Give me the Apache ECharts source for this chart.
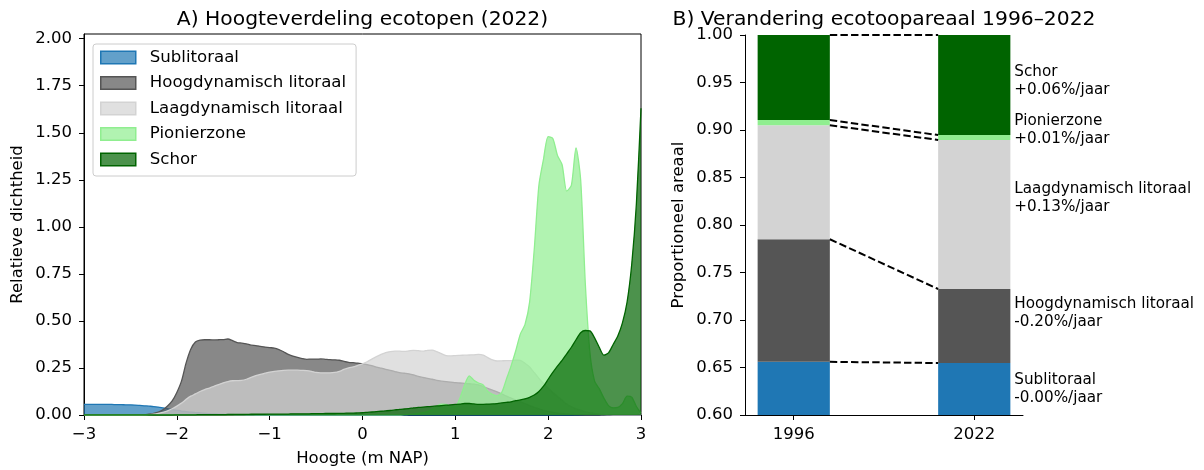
<!DOCTYPE html>
<html>
<head>
<meta charset="utf-8">
<script src="https://cdn.jsdelivr.net/npm/echarts@6/dist/echarts.min.js"></script>
<style>html,body{margin:0;padding:0;background:#fff}#c{width:1204px;height:470px}</style>
</head>
<body>
<div id="c"></div>
<script>
// ---------- Panel A: elevation grid (m NAP), step 0.05 from -3 to 3 ----------
const X = [];
for (let i = 0; i <= 120; i++) X.push(Math.round((-3 + i * 0.05) * 100) / 100);

const Z20 = [0,0,0,0,0,0,0,0,0,0, 0,0,0,0,0,0,0,0,0,0];

const SUBLITORAAL = [].concat(
  [0.056,0.056,0.056,0.056,0.056,0.056,0.056,0.055,0.055,0.054, 0.054,0.053,0.051,0.049,0.047,0.045,0.042,0.038,0.034,0.029],
  [0.025,0.021,0.018,0.015,0.013,0.011,0.009,0.007,0.006,0.005, 0.004,0.003,0.003,0.002,0.002,0.001,0.001,0,0,0],
  Z20, Z20, Z20, Z20, [0]
);
const HOOGDYNAMISCH = [].concat(
  [0,0,0,0,0,0,0,0,0,0, 0,0,0,0.002,0.004,0.008,0.015,0.028,0.048,0.075],
  [0.12,0.18,0.277,0.35,0.388,0.398,0.4,0.4,0.399,0.4, 0.401,0.404,0.395,0.385,0.382,0.378,0.371,0.369,0.365,0.361],
  [0.358,0.356,0.348,0.336,0.322,0.313,0.306,0.3,0.296,0.297, 0.297,0.298,0.296,0.294,0.293,0.291,0.285,0.28,0.278,0.276],
  [0.272,0.268,0.262,0.255,0.249,0.243,0.237,0.231,0.225,0.222, 0.219,0.213,0.205,0.2,0.195,0.19,0.184,0.18,0.177,0.175],
  [0.172,0.17,0.168,0.166,0.164,0.16,0.152,0.141,0.132,0.123, 0.113,0.1,0.09,0.08,0.07,0.06,0.05,0.04,0.032,0.025],
  [0.019,0.014,0.01,0.007,0.005,0.003,0.002,0.001,0,0, 0,0,0,0,0,0,0,0,0,0],
  [0]
);
const LAAGDYNAMISCH = [].concat(
  [0,0,0,0,0,0,0,0,0,0, 0,0,0,0,0.002,0.004,0.008,0.014,0.022,0.033],
  [0.047,0.063,0.083,0.1,0.112,0.125,0.135,0.143,0.152,0.162, 0.171,0.178,0.182,0.183,0.184,0.19,0.2,0.209,0.216,0.222],
  [0.228,0.232,0.235,0.237,0.238,0.238,0.238,0.237,0.236,0.232, 0.226,0.224,0.224,0.224,0.226,0.232,0.242,0.25,0.256,0.264],
  [0.272,0.283,0.297,0.31,0.322,0.332,0.337,0.339,0.339,0.338, 0.341,0.344,0.342,0.339,0.344,0.345,0.337,0.326,0.316,0.314],
  [0.316,0.317,0.318,0.319,0.32,0.322,0.318,0.305,0.293,0.287, 0.288,0.289,0.289,0.291,0.29,0.275,0.255,0.225,0.195,0.168],
  [0.142,0.12,0.098,0.078,0.058,0.043,0.032,0.024,0.017,0.011, 0.007,0.004,0.002,0.001,0,0,0,0,0,0],
  [0]
);
const PIONIERZONE = [].concat(
  Z20, Z20, Z20,
  [0,0,0,0,0,0,0,0,0,0.002, 0.003,0.005,0.008,0.012,0.018,0.03,0.048,0.058,0.056,0.045],
  [0.045,0.09,0.16,0.208,0.185,0.17,0.16,0.125,0.11,0.102, 0.12,0.19,0.26,0.34,0.43,0.48,0.6,0.88,1.22,1.36],
  [1.48,1.47,1.38,1.33,1.19,1.22,1.42,1.25,0.7,0.33, 0.18,0.14,0.09,0.05,0.038,0.04,0.06,0.1,0.095,0.045],
  [0.01]
);
const SCHOR = [].concat(
  Z20,
  [0.001,0.001,0.001,0.001,0.001,0.002,0.002,0.002,0.002,0.002, 0.002,0.003,0.003,0.003,0.003,0.003,0.004,0.004,0.004,0.004],
  [0.005,0.005,0.005,0.005,0.005,0.006,0.006,0.006,0.006,0.007, 0.007,0.007,0.008,0.008,0.008,0.009,0.009,0.01,0.01,0.011],
  [0.012,0.014,0.016,0.018,0.02,0.022,0.024,0.027,0.03,0.032, 0.034,0.038,0.04,0.042,0.044,0.046,0.048,0.05,0.052,0.054],
  [0.056,0.058,0.061,0.061,0.059,0.057,0.057,0.058,0.059,0.061, 0.064,0.067,0.07,0.076,0.08,0.086,0.094,0.106,0.125,0.153],
  [0.19,0.226,0.26,0.29,0.325,0.36,0.4,0.437,0.449,0.447, 0.41,0.36,0.318,0.33,0.375,0.42,0.49,0.6,0.8,1.12],
  [1.63]
);

const ECOTOPES = ['Sublitoraal','Hoogdynamisch litoraal','Laagdynamisch litoraal','Pionierzone','Schor'];
const DENSITIES = [SUBLITORAAL, HOOGDYNAMISCH, LAAGDYNAMISCH, PIONIERZONE, SCHOR];
const COLORS = ['#1f77b4','#555555','#d3d3d3','#90ee90','#006400'];
const FILLS = ['rgba(31,119,180,0.7)','rgba(85,85,85,0.7)','rgba(211,211,211,0.7)','rgba(144,238,144,0.7)','rgba(0,100,0,0.7)'];
const A_TICKS_Y = [0,0.25,0.5,0.75,1,1.25,1.5,1.75,2];

// ---------- Panel B: proportional area per ecotope ----------
const YEARS = ['1996','2022'];
const AREA_1996 = [0.656, 0.129, 0.120, 0.0055, 0.0895];
const AREA_2022 = [0.6547, 0.0779, 0.1569, 0.0052, 0.1053];
const RATES = ['-0.00%/jaar','-0.20%/jaar','+0.13%/jaar','+0.01%/jaar','+0.06%/jaar'];
const B_TICKS_Y = [0.6,0.65,0.7,0.75,0.8,0.85,0.9,0.95,1.0];

const FONT = 'DejaVu Sans';
const FS = 16.5;

function cum(a){ const r=[]; let s=0; a.forEach(v=>{s+=v; r.push(s);}); return r; }
const C96 = cum(AREA_1996), C22 = cum(AREA_2022);
const BAR_HALF = 0.2;

const series = [];
ECOTOPES.forEach((name, k) => {
  series.push({
    type:'line', name, xAxisIndex:0, yAxisIndex:0,
    data: X.map((x,i)=>[x, DENSITIES[k][i]]),
    showSymbol:false, symbol:'none', smooth:0.25,
    lineStyle:{color:COLORS[k], width:1.3},
    itemStyle:{color:COLORS[k]},
    areaStyle:{color:FILLS[k], opacity:1},
    z: 2 + k, silent:true
  });
});
ECOTOPES.forEach((name, k) => {
  series.push({
    type:'custom', name, xAxisIndex:1, yAxisIndex:1, clip:true, silent:true,
    data:[[0, k ? C96[k-1] : 0, C96[k]], [1, k ? C22[k-1] : 0, C22[k]]],
    renderItem:(params, api) => {
      const x = api.value(0);
      const p0 = api.coord([x - BAR_HALF, api.value(2)]);
      const p1 = api.coord([x + BAR_HALF, api.value(1)]);
      return {type:'rect', shape:{x:p0[0], y:p0[1], width:p1[0]-p0[0], height:p1[1]-p0[1]},
              style:{fill:COLORS[k]}};
    }
  });
});
ECOTOPES.forEach((name, k) => {
  series.push({
    type:'line', xAxisIndex:1, yAxisIndex:1,
    data:[[BAR_HALF, C96[k]],[1-BAR_HALF, C22[k]]],
    symbol:'none', lineStyle:{color:'#000', width:2, type:[7.4,3.2]}, z:5, silent:true
  });
});
// label positions: mean of the segment midpoints of both years
const labelData = ECOTOPES.map((name,k) => {
  const b96 = k===0 ? 0.6 : C96[k-1], b22 = k===0 ? 0.6 : C22[k-1];
  let y = ((b96 + C96[k]) / 2 + (b22 + C22[k]) / 2) / 2;
  y = Math.max(y, 0.62);
  return [1 + BAR_HALF + 0.022, y, name + '\n' + RATES[k]];
});
series.push({
  type:'scatter', xAxisIndex:1, yAxisIndex:1, symbolSize:0, data:labelData, silent:true,
  itemStyle:{opacity:1}, z:6,
  label:{show:true, position:'right', distance:0, formatter:p=>p.data[2], align:'left', verticalAlign:'middle',
         fontFamily:FONT, fontSize:15.2, lineHeight:17.8, color:'#000', opacity:1}
});

const axisText = {fontFamily:FONT, fontSize:FS, color:'#000'};
const minus = v => v < 0 ? '\u2212' + Math.abs(v) : String(v);

const option = {
  animation:false,
  textStyle:{fontFamily:FONT},
  title:[
    {text:'A) Hoogteverdeling ecotopen (2022)', left:362.5, top:9.5, textAlign:'center', padding:0,
     textStyle:{fontFamily:FONT, fontSize:20.3, fontWeight:'normal', color:'#000'}},
    {text:'B) Verandering ecotoopareaal 1996\u20132022', left:884, top:9.5, textAlign:'center', padding:0,
     textStyle:{fontFamily:FONT, fontSize:20.3, fontWeight:'normal', color:'#000'}}
  ],
  legend:{
    orient:'vertical', left:93, top:44, padding:[5,10,8,7],
    icon:'rect', itemWidth:35, itemHeight:12.3, itemGap:8.5, selectedMode:false,
    backgroundColor:'rgba(255,255,255,0.8)', borderColor:'#cccccc', borderWidth:1, borderRadius:3,
    textStyle:{fontFamily:FONT, fontSize:16.6, color:'#000', lineHeight:16, padding:[0,0,0,9]},
    data: ECOTOPES.map((name,k)=>({name, itemStyle:{color:FILLS[k], borderColor:COLORS[k], borderWidth:1.5, opacity:1}}))
  },
  grid:[
    {left:84, right:563, top:34, bottom:55, outerBoundsMode:'none', containLabel:false,
     show:true, borderColor:'#000', borderWidth:1, backgroundColor:'transparent'},
    {left:745, right:181, top:35, bottom:55, outerBoundsMode:'none', containLabel:false}
  ],
  xAxis:[
    {type:'value', gridIndex:0, min:-3, max:3, interval:1,
     name:'Hoogte (m NAP)', nameLocation:'middle', nameGap:35.5, nameTextStyle:axisText,
     axisLine:{show:true, onZero:false, lineStyle:{color:'#000', width:1}},
     axisTick:{show:true, length:5, lineStyle:{color:'#000', width:1}},
     axisLabel:{...axisText, margin:11, formatter:minus},
     splitLine:{show:false}},
    {type:'value', gridIndex:1, min:-0.27, max:1.27,
     axisLine:{show:true, onZero:false, lineStyle:{color:'#000', width:1}},
     axisTick:{show:true, length:5, customValues:[0,1], lineStyle:{color:'#000', width:1}},
     axisLabel:{...axisText, margin:11, customValues:[0,1], formatter:v=>YEARS[Math.round(v)]},
     splitLine:{show:false}}
  ],
  yAxis:[
    {type:'value', gridIndex:0, min:0, max:2.025,
     name:'Relatieve dichtheid', nameLocation:'middle', nameGap:58, nameTextStyle:axisText,
     axisLine:{show:true, onZero:false, lineStyle:{color:'#000', width:1}},
     axisTick:{show:true, length:5, customValues:A_TICKS_Y, lineStyle:{color:'#000', width:1}},
     axisLabel:{...axisText, margin:12, customValues:A_TICKS_Y, formatter:v=>v.toFixed(2)},
     splitLine:{show:false}},
    {type:'value', gridIndex:1, min:0.6, max:1.0,
     name:'Proportioneel areaal', nameLocation:'middle', nameGap:58, nameTextStyle:axisText,
     axisLine:{show:true, onZero:false, lineStyle:{color:'#000', width:1}},
     axisTick:{show:true, length:5, customValues:B_TICKS_Y, lineStyle:{color:'#000', width:1}},
     axisLabel:{...axisText, margin:12, customValues:B_TICKS_Y, formatter:v=>v.toFixed(2)},
     splitLine:{show:false}}
  ],
  series
};
const chart = echarts.init(document.getElementById('c'), null, {renderer:'canvas'});
chart.setOption(option);
</script>
</body>
</html>
